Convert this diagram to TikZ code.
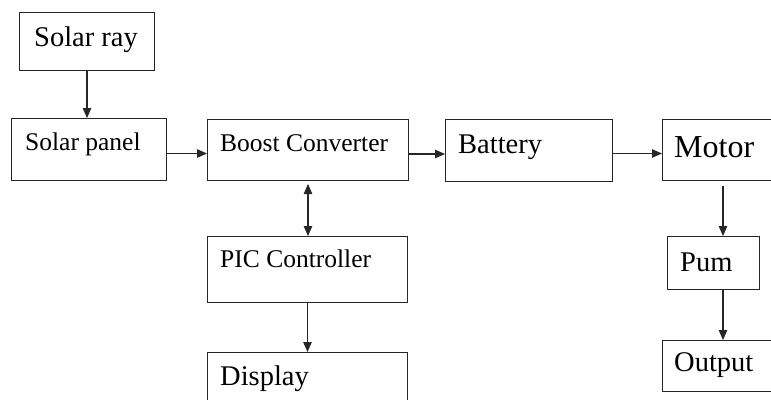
\documentclass[tikz,border=0pt]{standalone}
\usepackage{fontspec}
\setmainfont{Liberation Serif}
\usetikzlibrary{arrows.meta}
\begin{document}
\begin{tikzpicture}[x=1pt,y=-1pt,
  blk/.style={draw=black!85, line width=1pt, rectangle, inner sep=0pt, anchor=north west},
  lbl/.style={anchor=base west, inner sep=0pt, text=black},
  small/.style={font=\fontsize{25.5}{30}\selectfont},
  big/.style={font=\fontsize{28.5}{34}\selectfont},
  huge/.style={font=\fontsize{32}{38}\selectfont},
  tip/.tip={Triangle[length=10pt,width=8.5pt]},
  conn/.style={line width=1.1pt, draw=black!85, -tip},
  biconn/.style={line width=1.1pt, draw=black!85, tip-tip}]
\useasboundingbox (0,0) rectangle (771,399);
\clip (0,0) rectangle (771,399);

% blocks
\node[blk, minimum width=135pt, minimum height=58pt] (ray) at (19,12) {};
\node[blk, minimum width=155pt, minimum height=62pt] (panel) at (11,118) {};
\node[blk, minimum width=201pt, minimum height=61pt] (boost) at (207,119) {};
\node[blk, minimum width=167pt, minimum height=62pt] (battery) at (445,119) {};
\node[blk, minimum width=150pt, minimum height=61pt] (motor) at (662,119) {};
\node[blk, minimum width=200pt, minimum height=66pt] (pic) at (207,236) {};
\node[blk, minimum width=200pt, minimum height=70pt] (display) at (207,352) {};
\node[blk, minimum width=92pt, minimum height=53pt] (pum) at (667,236) {};
\node[blk, minimum width=150pt, minimum height=51pt] (output) at (662,340) {};

% labels
\node[lbl, big] (tray) at (34,46) {Solar ray};
\node[lbl, small] (tpanel) at (25,150) {Solar panel};
\node[lbl, small] (tboost) at (220,151) {Boost Converter};
\node[lbl, big] (tbattery) at (458,153) {Battery};
\node[lbl, huge] (tmotor) at (674,157) {Motor};
\node[lbl, small] (tpic) at (220,267) {PIC Controller};
\node[lbl, big] (tdisplay) at (220,385) {Display};
\node[lbl, big] (tpum) at (680,271) {Pum};
\node[lbl, big] (toutput) at (674,371) {Output};

% connectors
\draw[conn] (ray.south) -- (ray.south |- panel.north);
\draw[conn] ([yshift=-4pt]panel.east) -- ([yshift=-4pt]panel.east -| boost.west);
\draw[conn] ([yshift=-4pt]boost.east) -- ([yshift=-4pt]boost.east -| battery.west);
\draw[conn] ([yshift=-3pt]battery.east) -- ([yshift=-3pt]battery.east -| motor.west);
\draw[biconn] ([yshift=-3pt]boost.south) -- (boost.south |- pic.north);
\draw[conn] (pic.south) -- (pic.south |- display.north);
\coordinate (mdrop) at ([xshift=61pt,yshift=-5pt]motor.south west);
\draw[conn] (mdrop) -- (mdrop |- pum.north);
\coordinate (pdrop) at (mdrop |- pum.south);
\draw[conn] (pdrop) -- (pdrop |- output.north);
\end{tikzpicture}
\end{document}
